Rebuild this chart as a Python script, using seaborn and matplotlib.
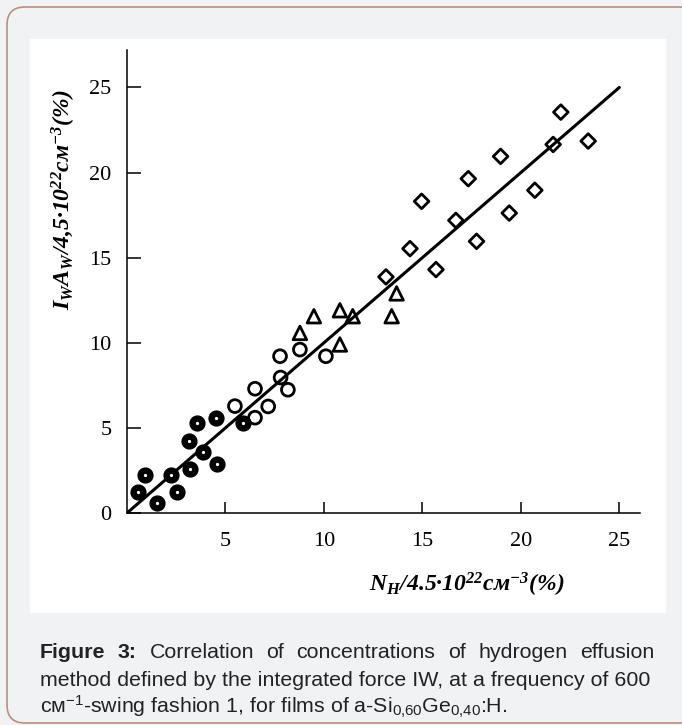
import seaborn as sns
import matplotlib.pyplot as plt
from matplotlib.patches import FancyBboxPatch, Rectangle
from matplotlib.transforms import IdentityTransform

# data
filled_x = [0.57, 0.91, 1.54, 2.22, 2.55, 3.20, 3.16, 3.54, 3.84, 4.55, 4.52, 5.87]
filled_y = [1.25, 2.23, 0.57, 2.23, 1.25, 2.58, 4.24, 5.26, 3.60, 2.87, 5.56, 5.26]
open_x = [5.48, 6.50, 7.17, 6.50, 8.17, 7.77, 8.78, 10.10, 7.80]
open_y = [6.28, 7.30, 6.26, 5.60, 7.24, 9.21, 9.60, 9.21, 7.96]
tri_x = [8.78, 9.49, 10.81, 11.46, 10.81, 13.44, 13.69]
tri_y = [10.58, 11.56, 11.91, 11.56, 9.90, 11.56, 12.90]
dia_x = [13.15, 14.37, 15.69, 14.96, 16.70, 17.33, 17.75, 18.97, 19.41, 20.71, 21.64, 22.03, 23.42]
dia_y = [13.87, 15.53, 14.30, 18.31, 17.19, 19.64, 15.96, 20.95, 17.62, 18.96, 21.65, 23.55, 21.85]
fit_x = [0, 25]
fit_y = [0, 25]

x_ticks = [5, 10, 15, 20, 25]
y_ticks = [0, 5, 10, 15, 20, 25]

sns.set_style("ticks")
plt.rcParams["font.family"] = ["Liberation Serif", "DejaVu Serif"]
plt.rcParams["mathtext.fontset"] = "custom"
plt.rcParams["mathtext.rm"] = "Liberation Serif:bold:italic"
plt.rcParams["mathtext.it"] = "Liberation Serif:bold:italic"
plt.rcParams["mathtext.bf"] = "Liberation Serif:bold:italic"
plt.rcParams["mathtext.sf"] = "Liberation Sans"

W, H = 682, 725
fig = plt.figure(figsize=(W / 100, H / 100), dpi=100)
fig.patch.set_facecolor("#f1f2f4")

# card frame and white panel, kept behind the axes
frame = FancyBboxPatch((7, 2), 690, 716, boxstyle="round,pad=0,rounding_size=18",
                       transform=IdentityTransform(), fc="#f1f2f4", ec="#b89080", lw=1.2, zorder=-3)
fig.add_artist(frame)
panel = Rectangle((30, H - 613), 636, 574, transform=IdentityTransform(), fc="white", ec="none", zorder=-2)
fig.add_artist(panel)

ax = fig.add_axes([127 / W, (H - 513) / H, (640 - 127) / W, (513 - 50) / H])
ax.set_facecolor("none")

sns.lineplot(x=fit_x, y=fit_y, color="black", lw=2.2, ax=ax)
sns.scatterplot(x=filled_x, y=filled_y, marker="o", s=50, color="black",
                facecolor="white", edgecolor="black", linewidth=4.6, ax=ax, zorder=3)
sns.scatterplot(x=open_x, y=open_y, marker="o", s=85, color="black",
                facecolor="none", edgecolor="black", linewidth=2.0, ax=ax, zorder=3)
sns.scatterplot(x=tri_x, y=tri_y, marker="^", s=95, color="black",
                facecolor="none", edgecolor="black", linewidth=2.0, ax=ax, zorder=3)
sns.scatterplot(x=dia_x, y=dia_y, marker="D", s=56, color="black",
                facecolor="none", edgecolor="black", linewidth=2.0, ax=ax, zorder=3)

ax.set_xlim(0, 26.05)
ax.set_ylim(0, 27.2)
ax.set_xticks(x_ticks)
ax.set_yticks(y_ticks)
sns.despine(ax=ax)
for sp in ["left", "bottom"]:
    ax.spines[sp].set_linewidth(1.1)
    ax.spines[sp].set_color("black")
ax.tick_params(axis="x", direction="in", length=8, width=1.1, pad=13.5, labelsize=16,
               colors="black")
ax.tick_params(axis="y", direction="in", length=10, width=1.1, pad=11, labelsize=16,
               colors="black")

ax.set_xlabel("N$_H$/4.5·10$^{22}$см$^{-3}$(%)", fontsize=17, fontweight="bold",
              fontstyle="italic", color="black")
ax.set_ylabel("I$_W$A$_W$/4,5·10$^{22}$см$^{-3}$(%)", fontsize=17, fontweight="bold",
              fontstyle="italic", color="black")
ax.xaxis.set_label_coords(0.663, -0.125)
ax.yaxis.set_label_coords(-0.095, 0.676)

# caption
cap = dict(family=["Liberation Sans", "DejaVu Sans"], fontsize=15.4, va="center", color="#222222")
left, right = 40, 654
words = [("Figure", "bold"), ("3:", "bold"), ("Correlation", "normal"), ("of", "normal"),
         ("concentrations", "normal"), ("of", "normal"), ("hydrogen", "normal"), ("effusion", "normal")]
renderer = fig.canvas.get_renderer()
texts, widths = [], []
for w, wt in words:
    t = fig.text(0, (H - 652) / H, w, fontweight=wt, **cap)
    texts.append(t)
    widths.append(t.get_window_extent(renderer).width)
gap = (right - left - sum(widths)) / (len(words) - 1)
x = left
for t, wd in zip(texts, widths):
    t.set_x(x / W)
    x += wd + gap
fig.text(left / W, (H - 680) / H, "method defined by the integrated force IW, at a frequency of 600", **cap)
fig.text(left / W, (H - 707) / H,
         r"см$^{\mathsf{-1}}$-swing fashion 1, for films of a-Si$_{\mathsf{0{,}60}}$Ge$_{\mathsf{0{,}40}}$:H.",
         **cap)

fig.savefig("out.png", dpi=100, facecolor=fig.get_facecolor())
